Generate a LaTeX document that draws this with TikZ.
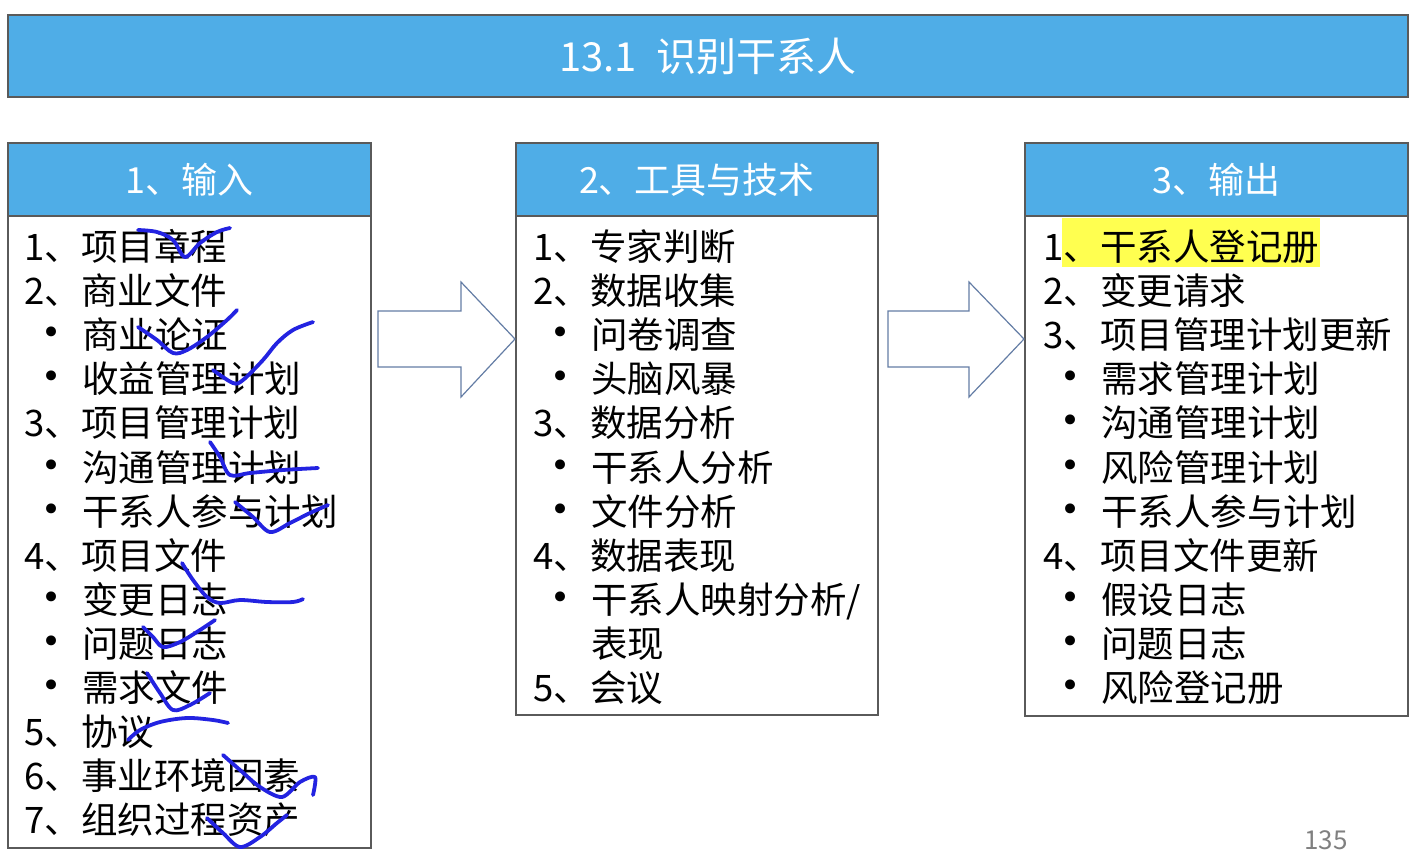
\documentclass[tikz,border=0pt]{standalone}
\usepackage{fontspec}
\setmainfont{Noto Sans CJK SC}
\newfontfamily\bulfont{DejaVu Sans}
\definecolor{hdrblue}{RGB}{79,173,231}
\definecolor{boxgray}{RGB}{90,90,90}
\definecolor{arrowblue}{RGB}{100,125,165}
\definecolor{markblue}{RGB}{35,35,225}
\definecolor{hiyellow}{RGB}{255,255,80}
\definecolor{pagegray}{RGB}{128,128,128}
\newcommand\numline[4]{\node[txt] (#1) at (#2,#3) {#4};}
\newcommand\bulline[4]{\node[bul] (#1b) at (#2+28,#3-12) {•};\node[txt] (#1) at (#2+58,#3) {#4};}
\begin{document}
\begin{tikzpicture}[x=0.5pt,y=-0.5pt,
  hdr/.style={draw=boxgray,fill=hdrblue,line width=0.7pt,inner sep=0,text=white,font=\fontsize{18}{22}\selectfont},
  bodybox/.style={draw=boxgray,line width=0.7pt,inner sep=0},
  txt/.style={anchor=base west,inner sep=0,font=\fontsize{18.25}{22}\selectfont},
  bul/.style={anchor=center,inner sep=0,font=\bulfont\fontsize{17}{20}\selectfont},
  blockarrow/.style={draw=arrowblue,line width=0.6pt,fill=white,line join=miter},
  penmark/.style={draw=markblue,line width=1.9pt,line cap=round,line join=round}]
\useasboundingbox (0,0) rectangle (1426,864);
% title
\node[hdr,minimum width=700pt,minimum height=41pt,font=\fontsize{20}{24}\selectfont] (title) at (708,56) {13.1\hspace{0.5em}识别干系人};
% box 1
\node[bodybox,minimum width=181.5pt,minimum height=316pt] (b1) at (189.5,532) {};
\node[hdr,minimum width=181.5pt,minimum height=36.5pt] (h1) at (189.5,179.5) {1、输入};
% box 2
\node[bodybox,minimum width=181pt,minimum height=249.5pt] (b2) at (697,465.5) {};
\node[hdr,minimum width=181pt,minimum height=36.5pt] (h2) at (697,179.5) {2、工具与技术};
% box 3
\node[bodybox,minimum width=191.5pt,minimum height=250pt] (b3) at (1216.5,466) {};
\node[hdr,minimum width=191.5pt,minimum height=36.5pt] (h3) at (1216.5,179.5) {3、输出};
% block arrows
\draw[blockarrow] (378,311) -- (461,311) -- (461,282) -- (515,339) -- (461,397) -- (461,367) -- (378,367) -- cycle;
\draw[blockarrow] (888,311) -- (969,311) -- (969,282) -- (1024,339) -- (969,397) -- (969,367) -- (888,367) -- cycle;
% box 1 text
\numline{a1}{24}{260}{1、项目章程}
\numline{a2}{24}{304}{2、商业文件}
\bulline{a3}{24}{348}{商业论证}
\bulline{a4}{24}{392}{收益管理计划}
\numline{a5}{24}{436}{3、项目管理计划}
\bulline{a6}{24}{481}{沟通管理计划}
\bulline{a7}{24}{525}{干系人参与计划}
\numline{a8}{24}{569}{4、项目文件}
\bulline{a9}{24}{613}{变更日志}
\bulline{a10}{24}{657}{问题日志}
\bulline{a11}{24}{701}{需求文件}
\numline{a12}{24}{745}{5、协议}
\numline{a13}{24}{789}{6、事业环境因素}
\numline{a14}{24}{833}{7、组织过程资产}
% box 2 text
\numline{t1}{533}{260}{1、专家判断}
\numline{t2}{533}{304}{2、数据收集}
\bulline{t3}{533}{348}{问卷调查}
\bulline{t4}{533}{392}{头脑风暴}
\numline{t5}{533}{436}{3、数据分析}
\bulline{t6}{533}{481}{干系人分析}
\bulline{t7}{533}{525}{文件分析}
\numline{t8}{533}{569}{4、数据表现}
\bulline{t9}{533}{613}{干系人映射分析/}
\node[txt] (t10) at (591,657) {表现};
\numline{t11}{533}{701}{5、会议}
% box 3 text
\fill[hiyellow] (1062,218) rectangle (1320,267);
\numline{o1}{1043}{260}{1、干系人登记册}
\numline{o2}{1043}{304}{2、变更请求}
\numline{o3}{1043}{348}{3、项目管理计划更新}
\bulline{o4}{1043}{392}{需求管理计划}
\bulline{o5}{1043}{436}{沟通管理计划}
\bulline{o6}{1043}{481}{风险管理计划}
\bulline{o7}{1043}{525}{干系人参与计划}
\numline{o8}{1043}{569}{4、项目文件更新}
\bulline{o9}{1043}{613}{假设日志}
\bulline{o10}{1043}{657}{问题日志}
\bulline{o11}{1043}{701}{风险登记册}
% page number
\node[inner sep=0,text=pagegray,font=\fontsize{13}{15}\selectfont] (page) at (1326,840) {135};
% handwritten marks
\draw[penmark] plot[smooth,tension=0.55] coordinates {(138,230) (157,232) (173,240) (185,257) (200,243) (217,232) (230,228)};
\draw[penmark] plot[smooth,tension=0.55] coordinates {(138,327) (157,340) (173,353) (187,350) (207,337) (227,320) (237,310)};
\draw[penmark] plot[smooth,tension=0.55] coordinates {(213,370) (233,383) (243,380) (263,360) (277,343) (293,330) (313,322)};
\draw[penmark] plot[smooth,tension=0.55] coordinates {(210,442) (220,457) (230,475) (250,473) (283,470) (318,468)};
\draw[penmark] plot[smooth,tension=0.55] coordinates {(235,502) (253,517) (270,532) (290,523) (310,513) (328,505)};
\draw[penmark] plot[smooth,tension=0.55] coordinates {(182,563) (193,580) (207,597) (220,603) (240,600) (267,602) (293,602) (303,599)};
\draw[penmark] plot[smooth,tension=0.55] coordinates {(143,627) (153,637) (163,647) (180,642) (200,630) (215,620)};
\draw[penmark] plot[smooth,tension=0.55] coordinates {(147,673) (160,693) (173,710) (190,705) (210,693)};
\draw[penmark] plot[smooth,tension=0.55] coordinates {(128,740) (140,730) (160,722) (187,718) (213,720) (228,723)};
\draw[penmark] plot[smooth,tension=0.5] coordinates {(223,755) (240,770) (260,787) (282,797) (300,782) (315,777) (313,795)};
\draw[penmark] plot[smooth,tension=0.55] coordinates {(207,818) (223,833) (240,847) (260,837) (277,823) (287,815)};
\end{tikzpicture}
\end{document}
